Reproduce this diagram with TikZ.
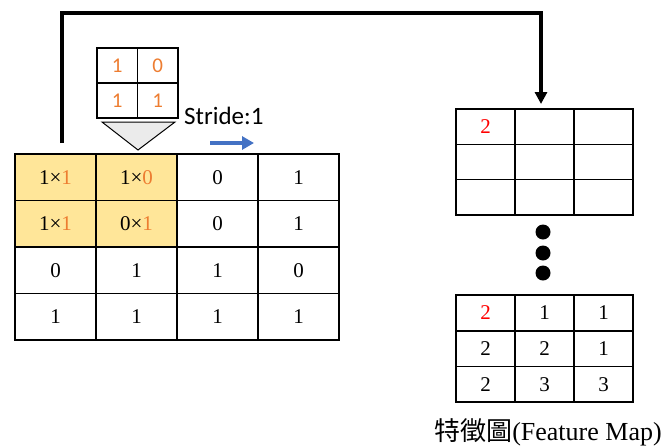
\documentclass[tikz,border=0pt]{standalone}
\usepackage{fontspec}
\setmainfont{Liberation Serif}
\newfontfamily\carl{Carlito}
\newfontfamily\cjk{Noto Sans CJK TC}
\usetikzlibrary{arrows.meta}
\definecolor{orng}{HTML}{ED7D31}
\definecolor{gold}{HTML}{FFE699}
\definecolor{blu}{HTML}{4472C4}
\definecolor{tri}{HTML}{EBEBEB}
\begin{document}
\begin{tikzpicture}[x=1pt,y=-1pt,
  gcell/.style={draw=black, line width=1.1pt, minimum width=81pt, minimum height=46.5pt, inner sep=0pt, font=\fontsize{21}{24}\selectfont},
  kcell/.style={draw=black, line width=1.1pt, minimum width=40.5pt, minimum height=35pt, inner sep=0pt, text=orng, font=\carl\fontsize{21}{24}\selectfont},
  mcell/.style={draw=black, line width=1.4pt, minimum width=59pt, minimum height=35.5pt, inner sep=0pt, font=\fontsize{21}{24}\selectfont},
  dot/.style={circle, fill=black, minimum width=14pt, minimum height=15pt, inner sep=0pt}]
\useasboundingbox (0,0) rectangle (667,445);
% main grid
\foreach \r/\c/\t/\f in {
  0/0/{1×\textcolor{orng}{1}}/gold, 0/1/{1×\textcolor{orng}{0}}/gold, 0/2/0/white, 0/3/1/white,
  1/0/{1×\textcolor{orng}{1}}/gold, 1/1/{0×\textcolor{orng}{1}}/gold, 1/2/0/white, 1/3/1/white,
  2/0/0/white, 2/1/1/white, 2/2/1/white, 2/3/0/white,
  3/0/1/white, 3/1/1/white, 3/2/1/white, 3/3/1/white}
  \node[gcell, fill=\f] (g\r\c) at ({15+81*(\c+0.5)},{154+46.5*(\r+0.5)}) {\t};
% kernel
\foreach \r/\c/\t in {0/0/1, 0/1/0, 1/0/1, 1/1/1}
  \node[kcell] (k\r\c) at ({97+40.5*(\c+0.5)},{48+35*(\r+0.5)}) {\t};
\draw[line width=1pt, fill=tri] (102,122) -- (175,122) -- (138,150) -- cycle;
% stride
\node[anchor=west, inner sep=0pt, font=\carl\fontsize{25}{30}\selectfont] (stride) at (184,116) {Stride:1};
\coordinate (ba) at (210,143);
\coordinate (bb) at (254,143);
\draw[blu, line width=3.5pt, -{Triangle[length=12pt,width=13pt]}] (ba) -- (bb);
% feature map 1
\foreach \r/\c/\t in {0/0/\textcolor{red}{2}, 0/1/{}, 0/2/{}, 1/0/{}, 1/1/{}, 1/2/{}, 2/0/{}, 2/1/{}, 2/2/{}}
  \node[mcell] (a\r\c) at ({456+59*(\c+0.5)},{109+35.3*(\r+0.5)}) {\t};
% feature map 2
\foreach \r/\c/\t in {0/0/\textcolor{red}{2}, 0/1/1, 0/2/1, 1/0/2, 1/1/2, 1/2/1, 2/0/2, 2/1/3, 2/2/3}
  \node[mcell] (b\r\c) at ({456+59*(\c+0.5)},{295+35.7*(\r+0.5)}) {\t};
% dots
\node[dot] (d1) at (543,232) {};
\node[dot] (d2) at (543,253) {};
\node[dot] (d3) at (543,273) {};
% connector
\coordinate (cs) at (62,143);
\coordinate (ce) at (541,104);
\draw[line width=3.5pt, -{Triangle[length=12pt,width=12pt]}] (cs) -- (62,13) -- (541,13) -- (ce);
% label
\node[font=\fontsize{26}{30}\selectfont, inner sep=0pt] (lab) at (548,432) {{\cjk 特徵圖}(Feature Map)};
\end{tikzpicture}
\end{document}
